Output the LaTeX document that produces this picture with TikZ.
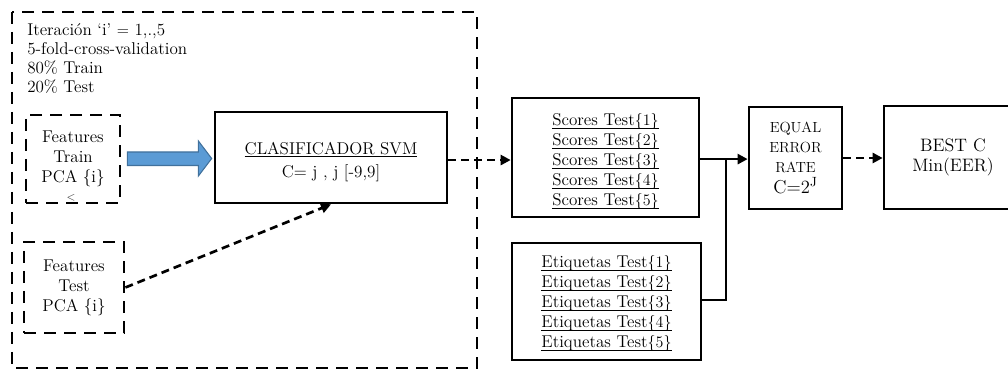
\documentclass[tikz,border=0pt]{standalone}
\usetikzlibrary{arrows.meta,calc}
\definecolor{arrowfill}{RGB}{91,155,213}
\definecolor{arrowedge}{RGB}{65,113,156}
% underline that ignores the depth of braces but keeps the line height
\newcommand\flatul[1]{\underline{\vphantom{T}\smash{#1}}}
\tikzset{
  txt/.style={font=\fontsize{12.8}{15}\selectfont},
  solidbox/.style={draw, line width=2pt, rectangle, inner sep=0pt, align=center, txt},
  dashbox/.style={draw, line width=2.1pt, rectangle, inner sep=0pt, align=center, txt,
    dash pattern=on 8.75pt off 6.25pt},
  dasharrow/.style={line width=2pt, dash pattern=on 6pt off 3.75pt,
    -{Triangle[length=7.5pt,width=7.5pt]}},
  solidarrow/.style={line width=2pt, -{Triangle[length=7.5pt,width=7.5pt]}},
  plainline/.style={line width=2pt},
}
\begin{document}
\begin{tikzpicture}[x=0.75pt,y=-0.75pt]
\clip (0,0) rectangle (1008,370);

% outer dashed frame of the cross-validation loop
\draw[line width=2.1pt, dash pattern=on 8.75pt off 6.25pt] (12,12) rectangle (477,368);

% loop description
\node[txt, inner sep=0pt, anchor=base west] (l1) at (27,36) {Iteración `i' $=$ 1,.,5};
\node[txt, inner sep=0pt, anchor=base west] (l2) at (27,55) {5-fold-cross-validation};
\node[txt, inner sep=0pt, anchor=base west] (l3) at (27,74) {80\% Train};
\node[txt, inner sep=0pt, anchor=base west] (l4) at (27,93) {20\% Test};

% feature sets
\node[dashbox, minimum width=70.5pt, minimum height=66pt] (train) at (73,159)
  {Features\\Train\\PCA \{i\}};
\node[dashbox, minimum width=75pt, minimum height=68.25pt] (test) at (74,287.5)
  {Features\\Test\\PCA \{i\}};
\node[font=\fontsize{8}{8}\selectfont, text=black!80, inner sep=0pt] (lt) at (71,198) {$<$};

% classifier
\node[solidbox, minimum width=174pt, minimum height=68.25pt] (svm) at (331,157.5)
  {\rule{0pt}{16.2pt}\flatul{CLASIFICADOR SVM}\\[2pt]C= j , j [-9,9]};

% scores and labels
\node[solidbox, minimum width=140.25pt, minimum height=89.25pt] (scores) at (605.5,157.5)
  {\rule{0pt}{14.7pt}\flatul{Scores Test$\{1\}$}\\\flatul{Scores Test$\{2\}$}\\\flatul{Scores Test$\{3\}$}\\\flatul{Scores Test$\{4\}$}\\\flatul{Scores Test$\{5\}$}};
\node[solidbox, minimum width=141.75pt, minimum height=87.75pt] (etiq) at (606.5,301.5)
  {\rule{0pt}{11.7pt}\flatul{Etiquetas Test$\{1\}$}\\\flatul{Etiquetas Test$\{2\}$}\\\flatul{Etiquetas Test$\{3\}$}\\\flatul{Etiquetas Test$\{4\}$}\\\flatul{Etiquetas Test$\{5\}$}};

% evaluation
\node[solidbox, minimum width=69.75pt, minimum height=76.5pt] (eer) at (795.5,158)
  {\fontsize{11}{14.3}\selectfont EQUAL\\\fontsize{11}{14.3}\selectfont ERROR\\\fontsize{11}{14.3}\selectfont RATE\\[1pt]\fontsize{14}{15}\selectfont C=2$^{\mathrm{J}}$};
\node[solidbox, minimum width=103.5pt, minimum height=77.25pt] (best) at (953,157.5)
  {\fontsize{13.5}{17.5}\selectfont BEST C\\\fontsize{13.5}{17.5}\selectfont Min(EER)};

% training data into the classifier
\fill[arrowfill, draw=arrowedge, line width=0.8pt]
  ($(train.east)+(6,-7)$) -- ($(train.east)+(77,-7)$) -- ($(train.east)+(77,-18)$)
  -- ($(svm.west)+(-2,1)$) -- ($(train.east)+(77,17)$) -- ($(train.east)+(77,6.5)$)
  -- ($(train.east)+(6,6.5)$) -- cycle;

% connectors
\draw[dasharrow] (test.east) -- (svm.south);
\draw[dasharrow] ([yshift=-1.9pt]svm.east) -- ([yshift=-1.9pt]scores.west);
\draw[solidarrow] ([yshift=-1.2pt]scores.east) -- ([yshift=-1.2pt]scores.east -| eer.west);
\coordinate (jn) at ([yshift=-1.2pt]scores.east -| 726,0);
\draw[plainline] ([yshift=1.1pt]etiq.east) -| (jn);
\draw[dasharrow] (eer.east) -- (eer.east -| best.west);
\end{tikzpicture}
\end{document}
